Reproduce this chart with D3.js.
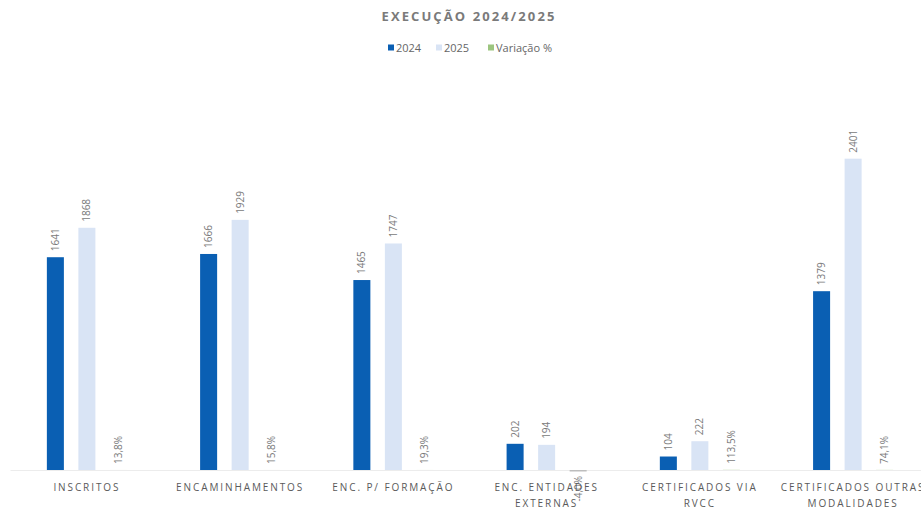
<!DOCTYPE html>
<html>
<head>
<meta charset="utf-8">
<script src="https://cdn.jsdelivr.net/npm/d3@7"></script>
<style>
  html, body { margin: 0; padding: 0; background: #ffffff; }
  svg { display: block; font-family: "Open Sans", "Noto Sans", sans-serif; }
</style>
</head>
<body>
<svg id="chart" width="921" height="511"></svg>
<script>
// ---- data ----
const title = "EXECUÇÃO 2024/2025";
const categories = [
  ["INSCRITOS"],
  ["ENCAMINHAMENTOS"],
  ["ENC. P/ FORMAÇÃO"],
  ["ENC. ENTIDADES", "EXTERNAS"],
  ["CERTIFICADOS VIA", "RVCC"],
  ["CERTIFICADOS OUTRAS", "MODALIDADES"]
];
const seriesNames = ["2024", "2025", "Variação %"];
const values2024 = [1641, 1666, 1465, 202, 104, 1379];
const values2025 = [1868, 1929, 1747, 194, 222, 2401];
const variation = [0.138, 0.158, 0.193, -0.040, 1.135, 0.741];
const variationLabels = ["13,8%", "15,8%", "19,3%", "-4,0%", "113,5%", "74,1%"];
const colors = ["#0a5fb3", "#d9e4f5", "#9cc57f"];

// ---- layout ----
const svg = d3.select("#chart");
const plot = { left: 10.5, right: 929.5, top: 81, bottom: 470 };
const catKeys = categories.map(c => c.join(" "));

const x0 = d3.scaleBand().domain(catKeys).range([plot.left, plot.right])
  .paddingInner(0.383).paddingOuter(0.19);
const x1 = d3.scaleBand().domain(seriesNames).range([0, x0.bandwidth()])
  .paddingInner(0.46).paddingOuter(0.23);
const y = d3.scaleLinear().domain([0, 3000]).range([plot.bottom, plot.top]);

// title
svg.append("text")
  .attr("x", 469).attr("y", 21)
  .attr("text-anchor", "middle")
  .attr("font-size", 13).attr("font-weight", "bold")
  .attr("letter-spacing", 2.1)
  .attr("fill", "#7a7a7a")
  .text(title);

// legend
const legendItems = [
  { name: seriesNames[0], color: colors[0], x: 388 },
  { name: seriesNames[1], color: colors[1], x: 436 },
  { name: seriesNames[2], color: colors[2], x: 488 }
];
const lg = svg.append("g");
legendItems.forEach(it => {
  lg.append("rect").attr("x", it.x).attr("y", 44.5).attr("width", 6).attr("height", 6).attr("fill", it.color);
  lg.append("text").attr("x", it.x + 8).attr("y", 51.5)
    .attr("font-size", 11).attr("fill", "#666").text(it.name);
});

// baseline
svg.append("line")
  .attr("x1", plot.left).attr("x2", plot.right)
  .attr("y1", y(0) + 0.5).attr("y2", y(0) + 0.5)
  .attr("stroke", "#ececec").attr("stroke-width", 1);

// bars
const rows = catKeys.map((k, i) => ({
  key: k,
  vals: [
    { s: seriesNames[0], v: values2024[i], lbl: String(values2024[i]) },
    { s: seriesNames[1], v: values2025[i], lbl: String(values2025[i]) },
    { s: seriesNames[2], v: variation[i], lbl: variationLabels[i] }
  ]
}));

const g = svg.append("g").selectAll("g").data(rows).join("g")
  .attr("transform", d => `translate(${x0(d.key)},0)`);

g.selectAll("rect").data(d => d.vals).join("rect")
  .attr("x", d => x1(d.s))
  .attr("width", x1.bandwidth())
  .attr("y", d => y(Math.max(0, d.v)))
  .attr("height", d => Math.max(Math.abs(y(d.v) - y(0)), d.v < 0 ? 1.5 : 0))
  .attr("fill", (d, i) => d.v < 0 ? "#bdbdbd" : colors[i]);

// data labels (rotated)
g.selectAll("text.lbl").data(d => d.vals).join("text")
  .attr("class", "lbl")
  .attr("transform", d => {
    const cx = x1(d.s) + x1.bandwidth() / 2 + 3.5;
    const yy = d.v >= 0 ? y(d.v) - 6 : y(0) + 6;
    return `translate(${cx},${yy}) rotate(-90)`;
  })
  .attr("text-anchor", d => d.v >= 0 ? "start" : "end")
  .attr("font-size", 10).attr("fill", "#7a7a7a")
  .text(d => d.lbl);

// category labels
categories.forEach((lines, i) => {
  const cx = x0(catKeys[i]) + x0.bandwidth() / 2;
  const t = svg.append("text")
    .attr("x", cx).attr("y", 491)
    .attr("text-anchor", "middle")
    .attr("font-size", 10).attr("letter-spacing", 1.9)
    .attr("fill", "#5a5a5a");
  lines.forEach((ln, j) => {
    t.append("tspan").attr("x", cx).attr("dy", j === 0 ? 0 : 16).text(ln);
  });
});
</script>
</body>
</html>
